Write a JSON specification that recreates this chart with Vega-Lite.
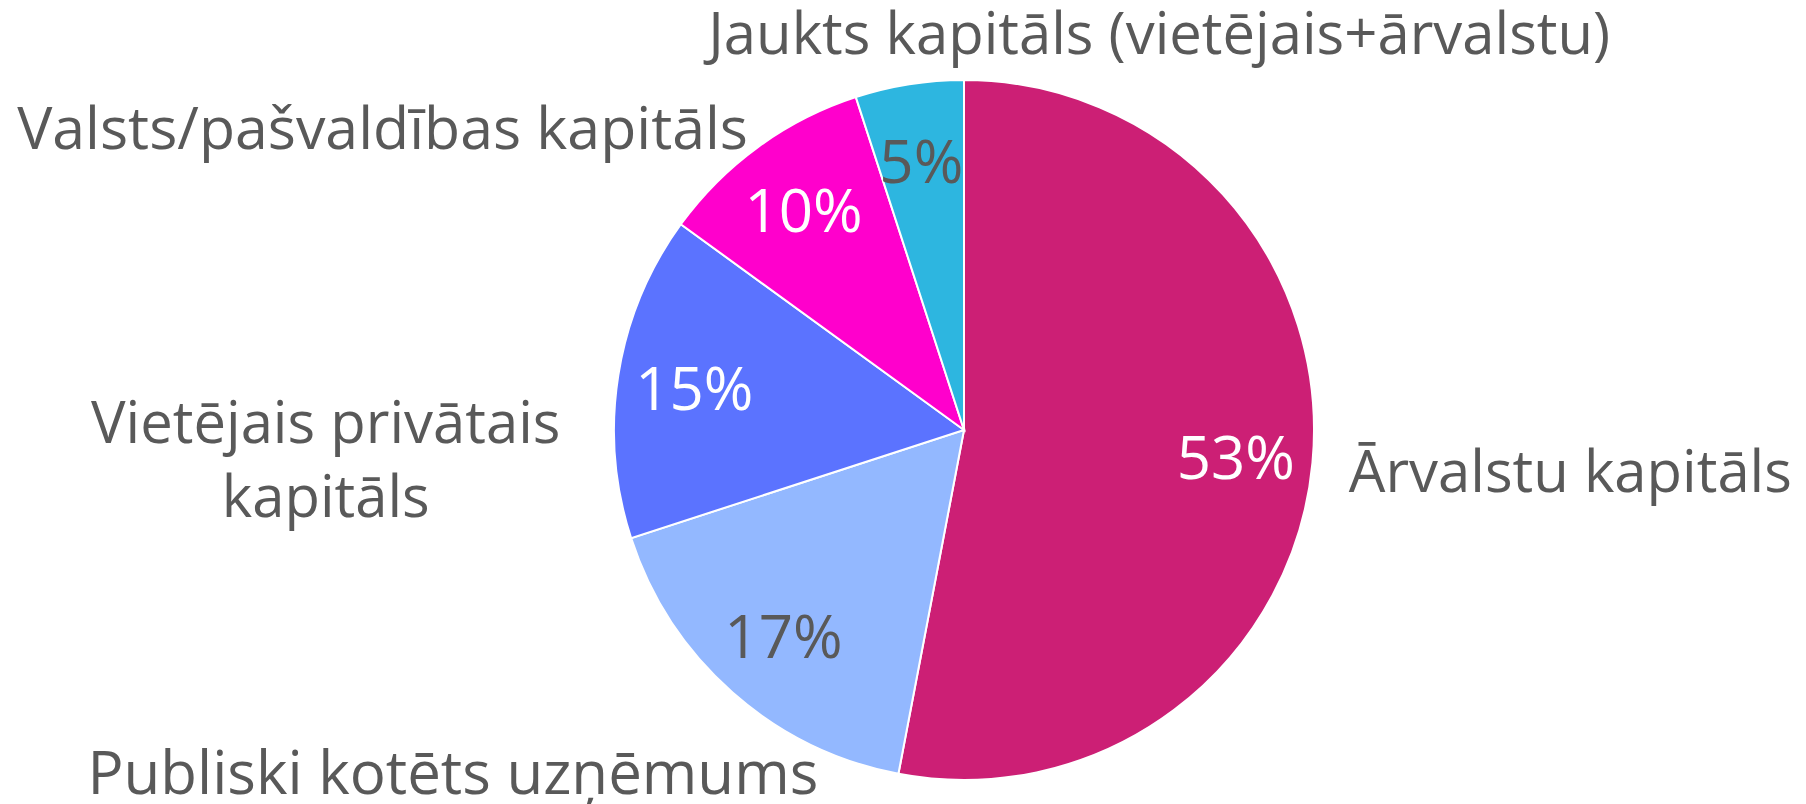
{
  "$schema": "https://vega.github.io/schema/vega-lite/v6.json",
  "autosize": {"type": "none"},
  "width": 1684,
  "height": 748,
  "padding": {"left": 122, "top": 56, "right": 0, "bottom": 0},
  "background": "white",
  "config": {"view": {"stroke": null}, "font": "Open Sans"},
  "data": {
    "values": [
      {"name": "Ārvalstu kapitāls", "value": 53, "pct": "53%", "ord": 1, "lc": "white"},
      {"name": "Publiski kotēts uzņēmums", "value": 17, "pct": "17%", "ord": 2, "lc": "dark"},
      {"name": "Vietējais privātais kapitāls", "value": 15, "pct": "15%", "ord": 3, "lc": "white"},
      {"name": "Valsts/pašvaldības kapitāls", "value": 10, "pct": "10%", "ord": 4, "lc": "white"},
      {"name": "Jaukts kapitāls (vietējais+ārvalstu)", "value": 5, "pct": "5%", "ord": 5, "lc": "dark"}
    ]
  },
  "encoding": {
    "theta": {"field": "value", "type": "quantitative", "stack": true},
    "order": {"field": "ord", "type": "quantitative"}
  },
  "layer": [
    {
      "mark": {"type": "arc", "outerRadius": 350, "stroke": "white", "strokeWidth": 2},
      "encoding": {
        "color": {
          "field": "name", "type": "nominal", "legend": null,
          "scale": {
            "domain": ["Ārvalstu kapitāls", "Publiski kotēts uzņēmums", "Vietējais privātais kapitāls", "Valsts/pašvaldības kapitāls", "Jaukts kapitāls (vietējais+ārvalstu)"],
            "range": ["#CC1F75", "#93B8FF", "#5B73FF", "#FF00CC", "#2DB6E0"]
          }
        }
      }
    },
    {
      "mark": {"type": "text", "radius": 273, "dy": 5, "fontSize": 60, "font": "Open Sans", "align": "center", "baseline": "middle"},
      "encoding": {
        "text": {"field": "pct"},
        "color": {"condition": {"test": "datum.lc === 'white'", "value": "#FFFFFF"}, "value": "#595959"}
      }
    },
    {
      "mark": {"type": "text", "radius": 609, "dy": -12, "fontSize": 58, "font": "Open Sans", "align": "center", "baseline": "middle", "color": "#595959"},
      "encoding": {"text": {"condition": {"test": "datum.ord === 1", "field": "name"}, "value": ""}}
    },
    {
      "mark": {"type": "text", "radius": 596, "dx": -117, "dy": -101, "fontSize": 60, "font": "Open Sans", "align": "center", "baseline": "middle", "color": "#595959"},
      "encoding": {"text": {"condition": {"test": "datum.ord === 2", "field": "name"}, "value": ""}}
    },
    {
      "mark": {"type": "text", "radius": 626, "dx": -20, "dy": 94, "fontSize": 58, "lineHeight": 74, "font": "Open Sans", "align": "center", "baseline": "middle", "color": "#595959"},
      "encoding": {"text": {"condition": {"test": "datum.ord === 3", "value": ["Vietējais privātais", "kapitāls"]}, "value": ""}}
    },
    {
      "mark": {"type": "text", "radius": 586, "dx": -237, "dy": 175, "fontSize": 59, "font": "Open Sans", "align": "center", "baseline": "middle", "color": "#595959"},
      "encoding": {"text": {"condition": {"test": "datum.ord === 4", "field": "name"}, "value": ""}}
    },
    {
      "mark": {"type": "text", "radius": 363, "dx": 252, "dy": -34, "fontSize": 58, "font": "Open Sans", "align": "center", "baseline": "middle", "color": "#595959"},
      "encoding": {"text": {"condition": {"test": "datum.ord === 5", "field": "name"}, "value": ""}}
    }
  ]
}
